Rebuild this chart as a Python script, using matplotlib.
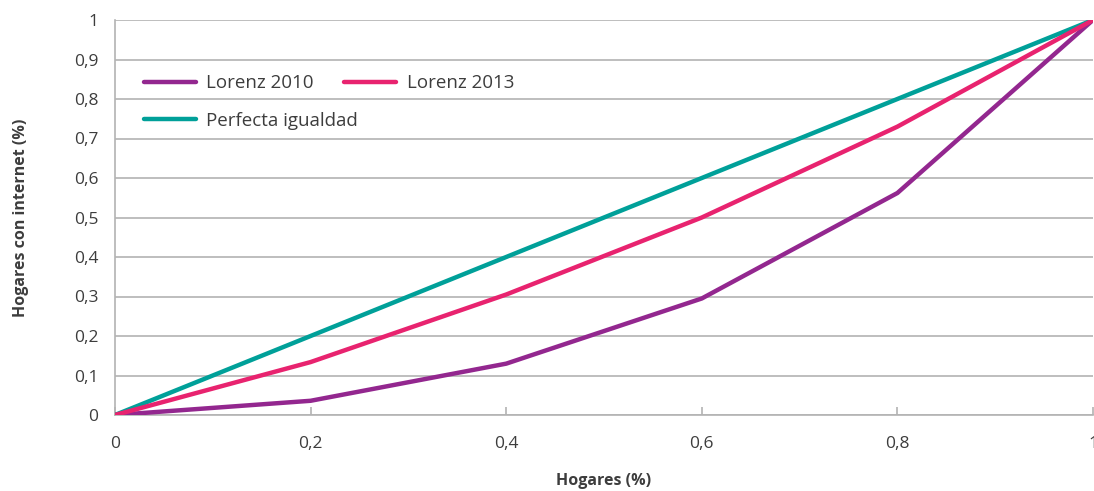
import matplotlib.pyplot as plt
from matplotlib.ticker import FuncFormatter

# Datos
hogares = [0, 0.2, 0.4, 0.6, 0.8, 1]
lorenz_2010 = [0, 0.036, 0.13, 0.295, 0.562, 1]
lorenz_2013 = [0, 0.134, 0.305, 0.5, 0.73, 1]
igualdad = [0, 0.2, 0.4, 0.6, 0.8, 1]

morado = "#93278F"
rosa = "#E8236F"
verde = "#00A099"
gris = "#b3b3b3"
texto = "#3d3d3d"

plt.rcParams["font.family"] = ["Open Sans", "DejaVu Sans"]

fig = plt.figure(figsize=(10.94, 4.91), dpi=100)
ax = fig.add_axes([115 / 1094, 76 / 491, 978 / 1094, 395 / 491])

l10, = ax.plot(hogares, lorenz_2010, color=morado, lw=3.2, label="Lorenz 2010", solid_capstyle="round", zorder=3)
lig, = ax.plot(hogares, igualdad, color=verde, lw=3.2, label="Perfecta igualdad", solid_capstyle="round", zorder=3)
l13, = ax.plot(hogares, lorenz_2013, color=rosa, lw=3.2, label="Lorenz 2013", solid_capstyle="round", zorder=3)

ax.set_xlim(0, 1)
ax.set_ylim(0, 1)
ax.set_xticks([0, 0.2, 0.4, 0.6, 0.8, 1])
ax.set_yticks([i / 10 for i in range(11)])

fmt = FuncFormatter(lambda v, p: ("%g" % round(v, 1)).replace(".", ","))
ax.xaxis.set_major_formatter(fmt)
ax.yaxis.set_major_formatter(fmt)

ax.grid(axis="y", color=gris, lw=1.2, zorder=1)
for s in ["top", "right"]:
    ax.spines[s].set_visible(False)
for s in ["left", "bottom"]:
    ax.spines[s].set_color(gris)
    ax.spines[s].set_linewidth(1.2)

ax.tick_params(axis="x", direction="in", length=6, color=gris, width=1.2, pad=15, labelsize=12.5, labelcolor=texto)
ax.tick_params(axis="y", length=0, pad=12, labelsize=12.5, labelcolor=texto)

ax.set_xlabel("Hogares (%)", fontsize=11.5, fontweight="bold", color=texto, labelpad=15)
ax.set_ylabel("Hogares con internet (%)", fontsize=11.5, fontweight="bold", color=texto, labelpad=32)

# leyenda en dos partes: fila 1 con las dos curvas de Lorenz, fila 2 igualdad
estilo = dict(frameon=False, fontsize=13.5, handlelength=2.8, handletextpad=0.55)
leg1 = ax.legend(handles=[l10, l13], loc="upper left", bbox_to_anchor=(0.012, 0.905),
                 ncol=2, columnspacing=1.6, **estilo)
ax.add_artist(leg1)
leg2 = ax.legend(handles=[lig], loc="upper left", bbox_to_anchor=(0.012, 0.81), **estilo)
for leg in (leg1, leg2):
    for t in leg.get_texts():
        t.set_color(texto)

fig.savefig("out.png", dpi=100)
